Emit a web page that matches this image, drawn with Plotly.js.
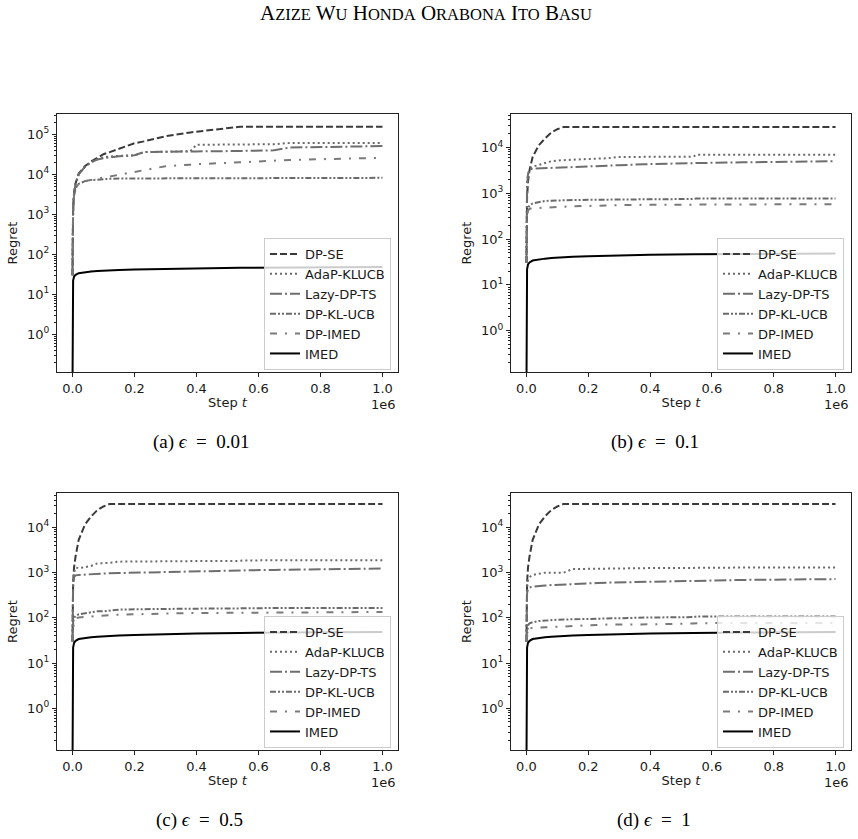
<!DOCTYPE html>
<html>
<head>
<meta charset="utf-8">
<script src="https://cdn.plot.ly/plotly-3.0.1.min.js"></script>
<style>
  html, body { margin: 0; padding: 0; background: #fff; }
  #chart { width: 858px; height: 839px; }
</style>
</head>
<body>
<div id="chart"></div>
<script>
// shared step grid (t)
const steps = [0, 2000, 5000, 10000, 20000, 40000, 60000, 80000, 100000, 120000, 150000,
  200000, 230000, 260000, 300000, 380000, 400000, 540000, 550000, 650000, 700000, 1000000];

const seriesNames = ['DP-SE', 'AdaP-KLUCB', 'Lazy-DP-TS', 'DP-KL-UCB', 'DP-IMED', 'IMED'];

// non-private baseline, same in every panel
const imed = [0.05, 22, 28, 31, 34, 36, 37.5, 38.5, 39.5, 40, 41, 42, 42.5, 43, 44, 45, 45.3, 46.5, 46.5, 47, 47.3, 48.5];

// (a) eps = 0.01
const seA   = [30, 1500, 3500, 6000, 10500, 16000, 21000, 26000, 32000, 36000, 44000, 60000, 67000, 76000, 90000, 112000, 117000, 155000, 155000, 155000, 155000, 155000];
const adaA  = [30, 1400, 3300, 5800, 10000, 15500, 20000, 24000, 26500, 28000, 29000, 30000, 36000, 37000, 37000, 38000, 55000, 56000, 56000, 57000, 61000, 61000];
const lazyA = [30, 1400, 3300, 5800, 10000, 15500, 20000, 23500, 25500, 27000, 28500, 30000, 36000, 36500, 36500, 37000, 37500, 38500, 38500, 40000, 47000, 51000];
const klA   = [30, 1200, 3000, 4500, 5800, 6800, 7200, 7500, 7800, 7800, 7900, 7900, 7900, 7900, 8000, 8000, 8000, 8100, 8100, 8100, 8200, 8200];
const dpiA  = [30, 1200, 3000, 4500, 5800, 6800, 7300, 7800, 8300, 8800, 9800, 11700, 12800, 14000, 16000, 17500, 18000, 20000, 20200, 22000, 23000, 26000];

// (b) eps = 0.1
const seB   = [30, 800, 1800, 3200, 6200, 11200, 15700, 21000, 25000, 28000, 28000, 28000, 28000, 28000, 28000, 28000, 28000, 28000, 28000, 28000, 28000, 28000];
const adaB  = [30, 1500, 2600, 3300, 3800, 4200, 4500, 5000, 5200, 5300, 5500, 5600, 5700, 5800, 6200, 6200, 6200, 6300, 6900, 6900, 6900, 6900];
const lazyB = [30, 1500, 2600, 3300, 3450, 3500, 3550, 3600, 3650, 3700, 3800, 3900, 4000, 4050, 4100, 4300, 4350, 4550, 4550, 4700, 4750, 5000];
const klB   = [30, 350, 480, 540, 600, 650, 680, 690, 700, 700, 710, 720, 720, 730, 740, 740, 740, 750, 770, 770, 770, 770];
const dpiB  = [30, 300, 420, 460, 470, 480, 490, 500, 500, 510, 520, 530, 540, 550, 550, 560, 560, 570, 580, 580, 580, 580];

// (c) eps = 0.5
const seC   = [30, 600, 1300, 2300, 5300, 11500, 17500, 24000, 29000, 33000, 33000, 33000, 33000, 33000, 33000, 33000, 33000, 33000, 33000, 33000, 33000, 33000];
const adaC  = [30, 600, 1000, 1300, 1250, 1300, 1400, 1600, 1620, 1650, 1750, 1750, 1760, 1780, 1800, 1800, 1800, 1820, 1850, 1880, 1880, 1880];
const lazyC = [30, 500, 800, 870, 890, 910, 930, 950, 960, 970, 980, 1000, 1010, 1020, 1040, 1070, 1080, 1120, 1120, 1150, 1160, 1230];
const klC   = [30, 80, 100, 110, 120, 125, 135, 140, 140, 145, 152, 155, 156, 158, 160, 160, 160, 162, 163, 165, 165, 165];
const dpiC  = [30, 70, 90, 98, 102, 105, 108, 110, 112, 115, 118, 120, 122, 124, 125, 128, 128, 130, 132, 133, 133, 135];

// (d) eps = 1
const seD   = [30, 600, 1300, 2300, 5300, 11500, 17500, 24000, 29000, 33000, 33000, 33000, 33000, 33000, 33000, 33000, 33000, 33000, 33000, 33000, 33000, 33000];
const adaD  = [30, 450, 690, 800, 890, 950, 1000, 1000, 1000, 1000, 1200, 1220, 1230, 1240, 1250, 1260, 1260, 1270, 1280, 1290, 1290, 1300];
const lazyD = [30, 350, 440, 470, 490, 510, 520, 530, 540, 550, 560, 580, 590, 600, 610, 630, 635, 660, 660, 680, 690, 720];
const klD   = [30, 55, 68, 76, 80, 85, 88, 90, 91, 92, 93, 96, 98, 100, 100, 101, 102, 104, 107, 107, 107, 107];
const dpiD  = [30, 48, 55, 59, 60, 61, 62, 63, 63, 64, 66, 70, 70, 71, 72, 72, 72, 75, 76, 77, 77, 77];

const xTickVals = [0, 200000, 400000, 600000, 800000, 1000000];
const xTickText = ['0.0', '0.2', '0.4', '0.6', '0.8', '1.0'];
const yTickVals = [1, 10, 100, 1000, 10000, 100000];
const yTickText = ['10<sup>0</sup>', '10<sup>1</sup>', '10<sup>2</sup>', '10<sup>3</sup>', '10<sup>4</sup>', '10<sup>5</sup>'];
const captions = ['(a) <i>ϵ</i>\u2002=\u20020.01', '(b) <i>ϵ</i>\u2002=\u20020.1', '(c) <i>ϵ</i>\u2002=\u20020.5', '(d) <i>ϵ</i>\u2002=\u20021'];
const captionX = [201, 655, 199, 654];

const panels = [
  [seA, adaA, lazyA, klA, dpiA, imed],
  [seB, adaB, lazyB, klB, dpiB, imed],
  [seC, adaC, lazyC, klC, dpiC, imed],
  [seD, adaD, lazyD, klD, dpiD, imed]
];

// styles per series
const styles = [
  {color: '#3a3a3a', dash: '7px,3px'},
  {color: '#6a6a6a', dash: '2px,3px'},
  {color: '#6e6e6e', dash: '12px,3px,2px,3px'},
  {color: '#6a6a6a', dash: '6px,2px,2px,2px,2px,2px'},
  {color: '#7a7a7a', dash: '7px,8px,2px,8px'},
  {color: '#000000', dash: 'solid'}
];

// pixel boxes of the four plot areas [left, right, top, bottom]
const W = 858, H = 839;
const boxes = [[57, 398, 114, 372], [511, 851, 114, 372], [57, 398, 493, 750], [511, 851, 493, 750]];
const yRanges = [[-0.94, 5.51], [-0.90, 4.73], [-0.92, 4.76], [-0.92, 4.76]];

const minorVals = [];
for (let e = -1; e <= 5; e++) for (let m = 2; m <= 9; m++) minorVals.push(m * Math.pow(10, e));

const font = {family: 'DejaVu Sans', size: 13, color: '#1a1a1a'};
const sc = s => '<span style="font-size:16.5px">' + s + '</span>';
const traces = [];
const layout = {
  width: W, height: H,
  margin: {l: 0, r: 0, t: 0, b: 0},
  paper_bgcolor: '#fff', plot_bgcolor: '#fff',
  font: font,
  showlegend: true,
  annotations: [{
    text: 'A' + sc('ZIZE') + ' W' + sc('U') + ' H' + sc('ONDA') + ' O' + sc('RABONA') + ' I' + sc('TO') + ' B' + sc('ASU'),
    xref: 'paper', yref: 'paper', x: 426 / W, y: 1 - 13 / H, xanchor: 'center', yanchor: 'middle',
    showarrow: false, font: {family: 'Liberation Serif', size: 21, color: '#000'}
  }]
};

panels.forEach((p, i) => {
  const n = i + 1;
  const xa = n === 1 ? 'x' : 'x' + n, ya = n === 1 ? 'y' : 'y' + n;
  const lg = n === 1 ? 'legend' : 'legend' + n;
  const [l, r, t, b] = boxes[i];
  p.forEach((vals, k) => {
    traces.push({
      x: steps, y: vals, type: 'scatter', mode: 'lines', name: seriesNames[k],
      xaxis: xa, yaxis: ya, legend: lg,
      line: {color: styles[k].color, dash: styles[k].dash, width: 2},
      hoverinfo: 'skip'
    });
  });
  const axBase = {
    showline: true, mirror: true, linecolor: '#222', linewidth: 1,
    ticks: 'outside', ticklen: 4, tickcolor: '#222', showgrid: false, zeroline: false,
    tickfont: font
  };
  layout[n === 1 ? 'xaxis' : 'xaxis' + n] = Object.assign({}, axBase, {
    domain: [l / W, r / W], anchor: ya, range: [-50000, 1050000],
    tickmode: 'array', tickvals: xTickVals, ticktext: xTickText,
    title: {text: 'Step <i>t</i>', font: font, standoff: 3}
  });
  layout[n === 1 ? 'yaxis' : 'yaxis' + n] = Object.assign({}, axBase, {
    domain: [1 - b / H, 1 - t / H], anchor: xa, type: 'log', range: yRanges[i],
    tickmode: 'array', tickvals: yTickVals, ticktext: yTickText,
    minor: {tickvals: minorVals, ticks: 'outside', ticklen: 2, tickcolor: '#222'},
    title: {text: 'Regret', font: font, standoff: 6}
  });
  layout[lg] = {
    x: (r - 7) / W, xanchor: 'right', y: 1 - (b - 2) / H, yanchor: 'bottom',
    bgcolor: 'rgba(255,255,255,0.8)', bordercolor: '#cccccc', borderwidth: 1,
    font: font, itemwidth: 30, tracegroupgap: 0
  };
  layout.annotations.push({
    text: '1e6', xref: 'paper', yref: 'paper', x: (r - 15) / W, y: 1 - (b + 32) / H,
    xanchor: 'center', yanchor: 'middle', showarrow: false, font: font
  });
  layout.annotations.push({
    text: captions[i], xref: 'paper', yref: 'paper', x: captionX[i] / W,
    y: 1 - (b + 70) / H, xanchor: 'center', yanchor: 'middle', showarrow: false,
    font: {family: 'Liberation Serif', size: 19, color: '#000'}
  });
});

Plotly.newPlot('chart', traces, layout, {staticPlot: true});
</script>
</body>
</html>
